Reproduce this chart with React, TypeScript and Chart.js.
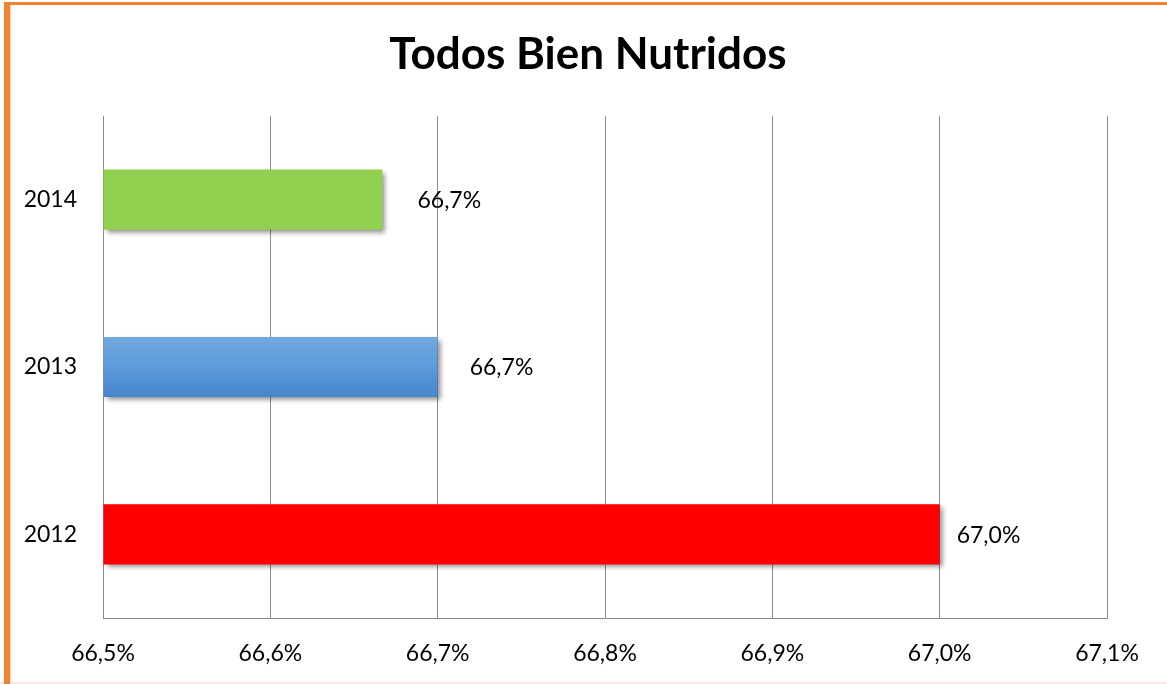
import React, { useEffect, useRef } from "react";
import { Chart, registerables } from "chart.js";

Chart.register(...registerables);

const categories = ["2014", "2013", "2012"];
const values = [66.667, 66.7, 67.0];
const valueLabels = ["66,7%", "66,7%", "67,0%"];
const axisMin = 66.5;
const axisMax = 67.1;
const axisStep = 0.1;
const titleText = "Todos Bien Nutridos";

const labelOffsets = [35, 32, 17];
const FONT = "Lato";

export default function App() {
  const ref = useRef<HTMLCanvasElement | null>(null);

  useEffect(() => {
    const canvas = ref.current;
    if (!canvas) return;

    const blueGradient = (c: any) => {
      const chart = c.chart;
      const y = chart.scales?.y;
      if (!y || !chart.chartArea) return "#5a98d8";
      const py = y.getPixelForValue(c.dataIndex);
      const g = chart.ctx.createLinearGradient(0, py - 30, 0, py + 30);
      g.addColorStop(0, "#72a9de");
      g.addColorStop(0.5, "#5c9adb");
      g.addColorStop(1, "#4686cb");
      return g;
    };

    const frame = {
      id: "frame",
      beforeDraw(chart: any) {
        const ctx = chart.ctx;
        ctx.save();
        ctx.fillStyle = "#ffffff";
        ctx.fillRect(0, 0, chart.width, chart.height);
        ctx.fillStyle = "#f5e6df";
        ctx.fillRect(0, 682, chart.width, 2);
        ctx.fillStyle = "#f08232";
        ctx.fillRect(4, 2, 6, 682);
        ctx.fillRect(4, 2, chart.width - 4, 3);
        ctx.fillStyle = "#fbd0b0";
        ctx.fillRect(10, 5, 1, 677);
        ctx.restore();
      },
      afterDraw(chart: any) {
        const ctx = chart.ctx;
        ctx.save();
        ctx.fillStyle = "#000000";
        ctx.font = `bold 44px ${FONT}`;
        ctx.textAlign = "center";
        ctx.textBaseline = "middle";
        ctx.fillText(titleText, 588, 55);
        ctx.restore();
      },
    };

    const shadow = {
      id: "shadow",
      beforeDatasetsDraw(chart: any) {
        const ctx = chart.ctx;
        ctx.save();
        ctx.shadowColor = "rgba(0,0,0,0.45)";
        ctx.shadowBlur = 5;
        ctx.shadowOffsetX = 3;
        ctx.shadowOffsetY = 3;
      },
      afterDatasetsDraw(chart: any) {
        chart.ctx.restore();
      },
    };

    const dataLabels = {
      id: "dataLabels",
      afterDatasetsDraw(chart: any) {
        const ctx = chart.ctx;
        const meta = chart.getDatasetMeta(0);
        ctx.save();
        ctx.fillStyle = "#000000";
        ctx.font = `23px ${FONT}`;
        ctx.textAlign = "left";
        ctx.textBaseline = "middle";
        meta.data.forEach((bar: any, i: number) => {
          ctx.fillText(valueLabels[i], bar.x + labelOffsets[i], bar.y + 1);
        });
        ctx.restore();
      },
    };

    const chart = new Chart(canvas, {
      type: "bar",
      data: {
        labels: categories,
        datasets: [
          {
            data: values,
            base: axisMin,
            backgroundColor: (c: any) =>
              c.dataIndex === 1 ? blueGradient(c) : c.dataIndex === 0 ? "#92d050" : "#ff0000",
            borderWidth: 0,
            categoryPercentage: 1,
            barPercentage: 0.36,
          } as any,
        ],
      },
      options: {
        indexAxis: "y",
        responsive: false,
        animation: false,
        layout: { padding: { left: 0, right: 60, top: 116, bottom: 0 } },
        plugins: {
          legend: { display: false },
          tooltip: { enabled: false },
          title: { display: false },
        },
        scales: {
          x: {
            min: axisMin,
            max: axisMax,
            afterFit: (s: any) => {
              s.height = 66;
            },
            ticks: {
              stepSize: axisStep,
              color: "#000000",
              font: { family: FONT, size: 23 },
              padding: 22,
              callback: (v: any) => Number(v).toFixed(1).replace(".", ",") + "%",
            },
            grid: { color: "#8c8c8c", lineWidth: 1, drawTicks: false },
            border: { display: true, color: "#8c8c8c", width: 1 },
          },
          y: {
            afterFit: (s: any) => {
              s.width = 103;
            },
            ticks: {
              color: "#000000",
              font: { family: FONT, size: 23 },
              padding: 26,
            },
            grid: { display: false, drawTicks: false },
            border: { display: true, color: "#8c8c8c", width: 1 },
          },
        },
      },
      plugins: [frame, shadow, dataLabels],
    });

    return () => chart.destroy();
  }, []);

  return (
    <div style={{ position: "fixed", left: 0, top: 0, width: 1167, height: 684 }}>
      <canvas ref={ref} width={1167} height={684} style={{ display: "block" }} />
    </div>
  );
}
